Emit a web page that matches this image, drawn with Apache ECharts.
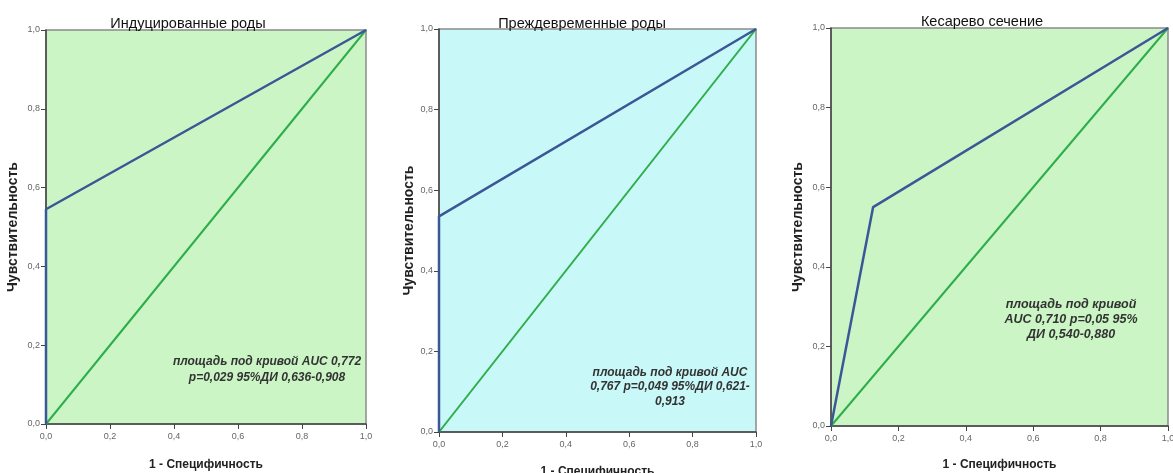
<!DOCTYPE html>
<html>
<head>
<meta charset="utf-8">
<script src="https://cdn.jsdelivr.net/npm/echarts@6/dist/echarts.min.js"></script>
<style>
html,body{margin:0;padding:0;background:#fff;}
#chart{width:1173px;height:473px;}
</style>
</head>
<body>
<div id="chart"></div>
<script>
// ---- data ----
const panelTitles = ['Индуцированные роды', 'Преждевременные роды', 'Кесарево сечение'];
const xAxisName = '1 - Специфичность';
const yAxisName = 'Чувствительность';

const roc1X = [0, 0, 1];
const roc1Y = [0, 0.545, 1];
const roc2X = [0, 0, 1];
const roc2Y = [0, 0.535, 1];
const roc3X = [0, 0.125, 1];
const roc3Y = [0, 0.55, 1];
const refX = [0, 1];
const refY = [0, 1];

const note1 = ['площадь под кривой AUC 0,772', 'p=0,029 95%ДИ 0,636-0,908'];
const note2 = ['площадь под кривой AUC', '0,767 p=0,049 95%ДИ 0,621-', '0,913'];
const note3 = ['площадь под кривой', 'AUC 0,710 p=0,05 95%', 'ДИ 0,540-0,880'];

// ---- layout ----
const FONT = '"Liberation Sans", Arial, sans-serif';
const grids = [
  {left: 46, top: 30, width: 320, height: 394, bg: '#ccf5c6'},
  {left: 439, top: 29, width: 317, height: 403, bg: '#c9f8f8'},
  {left: 831, top: 28, width: 337, height: 398, bg: '#ccf5c6'}
];
const yNameGaps = [26, 22, 26];
const xNameGaps = [35, 34, 33];
const titleCenters = [183, 577, 977];
const titleTops = [11, 11, 9];

function pairs(xs, ys) { return xs.map((x, i) => [x, ys[i]]); }
function fmt(v) { return v.toFixed(1).replace('.', ','); }

const rocs = [pairs(roc1X, roc1Y), pairs(roc2X, roc2Y), pairs(roc3X, roc3Y)];
const ref = pairs(refX, refY);

const option = {
  backgroundColor: '#ffffff',
  animation: false,
  title: panelTitles.map((t, i) => ({
    text: t,
    left: titleCenters[i],
    top: titleTops[i],
    textAlign: 'center',
    textStyle: {fontFamily: FONT, fontSize: 14.5, fontWeight: 'normal', color: '#111'}
  })),
  grid: grids.map(g => ({
    left: g.left, top: g.top, width: g.width, height: g.height,
    outerBoundsMode: 'none', containLabel: false,
    show: true, backgroundColor: g.bg, borderColor: '#8a8a8a', borderWidth: 1.5
  })),
  xAxis: grids.map((g, i) => ({
    type: 'value', gridIndex: i, min: 0, max: 1, interval: 0.2,
    name: xAxisName, nameLocation: 'middle', nameGap: xNameGaps[i],
    nameTextStyle: {fontFamily: FONT, fontSize: 12, fontWeight: 'bold', color: '#222'},
    axisLine: {show: true, onZero: false, lineStyle: {color: '#444', width: 1.5}},
    axisTick: {show: true, inside: false, length: 5, lineStyle: {color: '#444'}},
    axisLabel: {margin: 8, fontFamily: FONT, fontSize: 9, color: '#666', formatter: fmt},
    splitLine: {show: false}
  })),
  yAxis: grids.map((g, i) => ({
    type: 'value', gridIndex: i, min: 0, max: 1, interval: 0.2,
    name: yAxisName, nameLocation: 'middle', nameGap: yNameGaps[i], nameRotate: 90,
    nameTextStyle: {fontFamily: FONT, fontSize: 14, fontWeight: 'bold', color: '#222'},
    axisLine: {show: true, onZero: false, lineStyle: {color: '#444', width: 1.5}},
    axisTick: {show: true, inside: false, length: 5, lineStyle: {color: '#444'}},
    axisLabel: {margin: 6, fontFamily: FONT, fontSize: 9, color: '#666', formatter: fmt},
    splitLine: {show: false}
  })),
  series: [].concat(
    grids.map((g, i) => ({
      type: 'line', xAxisIndex: i, yAxisIndex: i, data: ref,
      symbol: 'none', lineStyle: {color: '#2eae4a', width: 2}, z: 3
    })),
    grids.map((g, i) => ({
      type: 'line', xAxisIndex: i, yAxisIndex: i, data: rocs[i],
      symbol: 'none', lineStyle: {color: '#3a5896', width: 2.5}, z: 4
    }))
  ),
  graphic: [
    {type: 'text', x: 267, y: 354, z: 100, style: {text: note1.join('\n'), align: 'center', lineHeight: 16,
      font: 'italic bold 12px ' + FONT, fill: '#333'}},
    {type: 'text', x: 670, y: 365, z: 100, style: {text: note2.join('\n'), align: 'center', lineHeight: 14.5,
      font: 'italic bold 12px ' + FONT, fill: '#333'}},
    {type: 'text', x: 1071, y: 297, z: 100, style: {text: note3.join('\n'), align: 'center', lineHeight: 15,
      font: 'italic bold 12.5px ' + FONT, fill: '#333'}}
  ]
};

const chart = echarts.init(document.getElementById('chart'), null, {renderer: 'canvas'});
chart.setOption(option);
</script>
</body>
</html>
